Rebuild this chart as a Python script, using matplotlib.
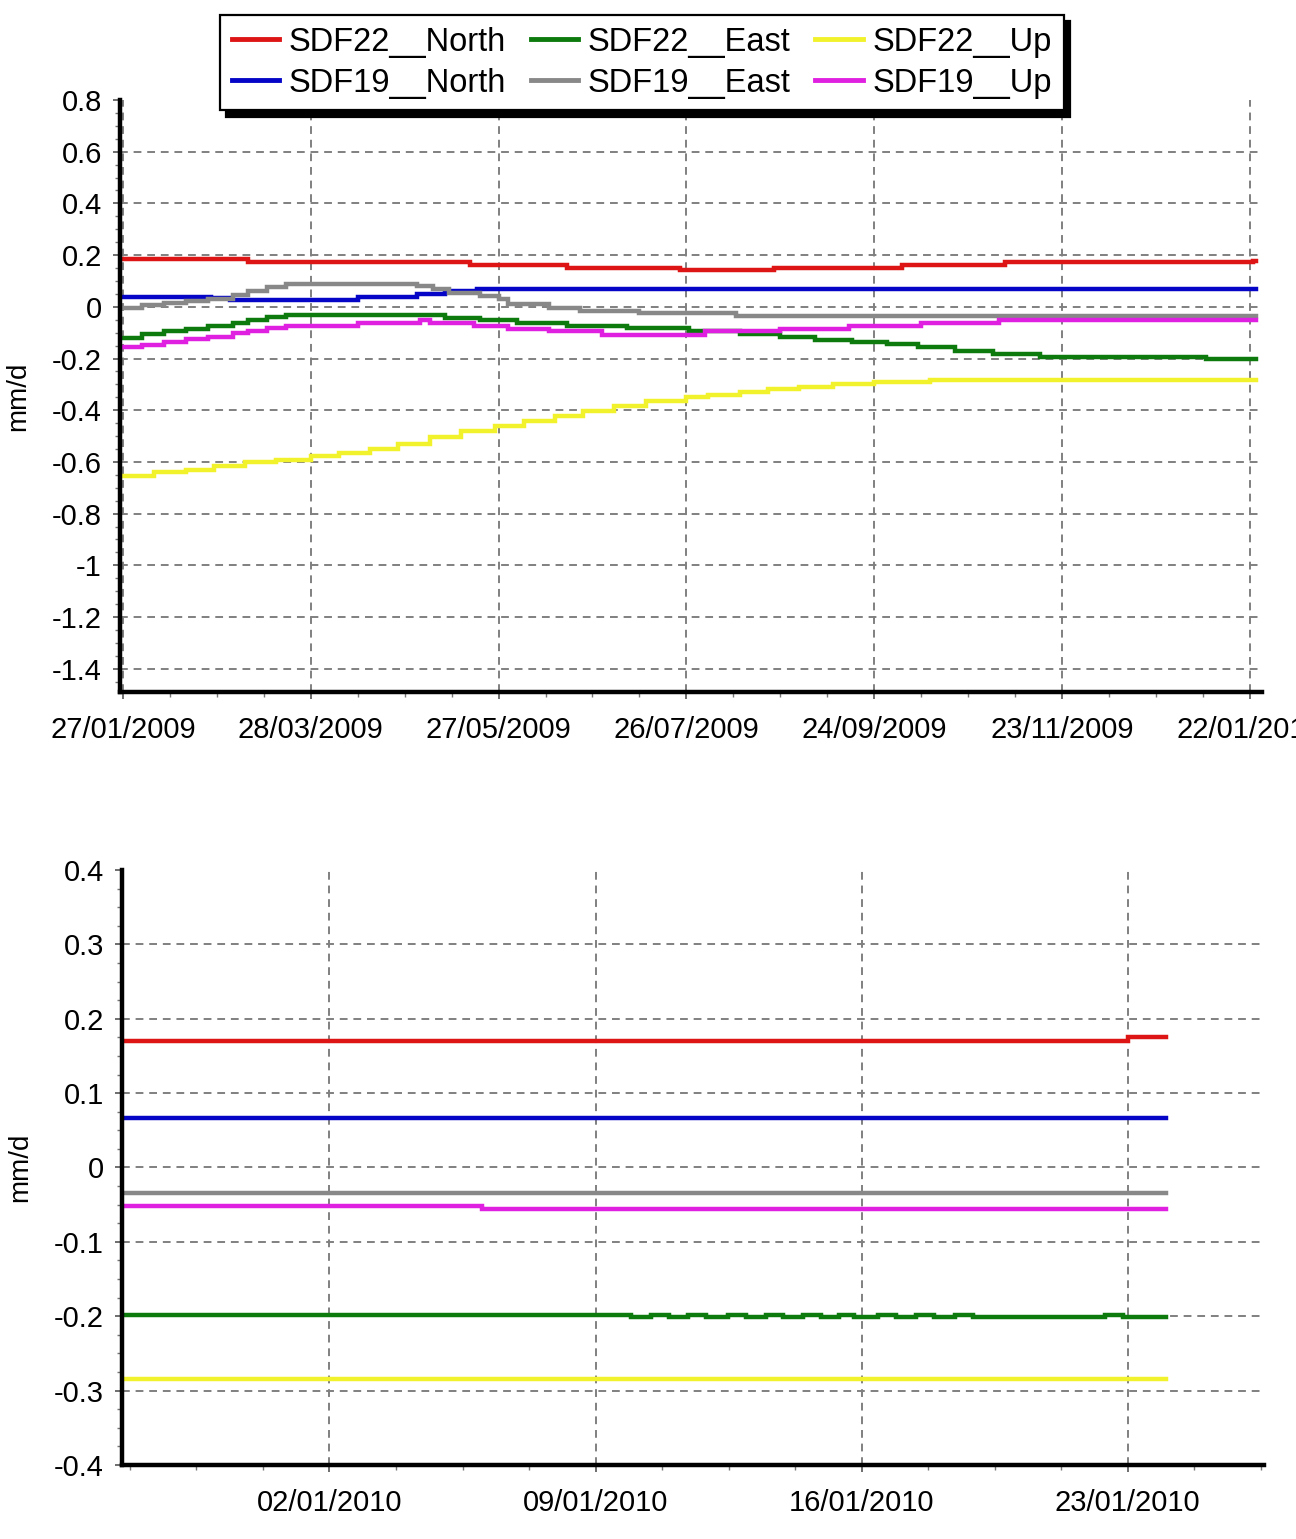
import pandas as pd
import matplotlib
matplotlib.use('Agg')
import matplotlib.pyplot as plt
import matplotlib.dates as mdates
from matplotlib.ticker import AutoMinorLocator, FixedLocator, FuncFormatter

plt.rcParams['font.family'] = ['Liberation Sans', 'DejaVu Sans']
plt.rcParams['axes.unicode_minus'] = False

# ---- top panel: one year of daily velocity (step values) ----
top_end = '24/01/2010'

n22_dates = ['26/01/2009', '08/03/2009', '18/05/2009', '18/06/2009', '24/07/2009',
             '23/08/2009', '03/10/2009', '05/11/2009', '23/01/2010']
n22_vals = [0.186, 0.174, 0.162, 0.151, 0.143, 0.151, 0.162, 0.174, 0.178]

e22_dates = ['26/01/2009', '02/02/2009', '09/02/2009', '16/02/2009', '23/02/2009',
             '03/03/2009', '08/03/2009', '14/03/2009', '20/03/2009', '10/05/2009',
             '21/05/2009', '02/06/2009', '18/06/2009', '07/07/2009', '27/07/2009',
             '12/08/2009', '25/08/2009', '05/09/2009', '17/09/2009', '28/09/2009',
             '08/10/2009', '20/10/2009', '01/11/2009', '16/11/2009', '08/01/2010']
e22_vals = [-0.119, -0.106, -0.095, -0.084, -0.073, -0.063, -0.052, -0.041, -0.031, -0.044,
            -0.052, -0.061, -0.073, -0.082, -0.093, -0.106, -0.118, -0.128, -0.137, -0.145,
            -0.157, -0.170, -0.183, -0.195, -0.201]

u22_dates = ['26/01/2009', '06/02/2009', '16/02/2009', '25/02/2009', '07/03/2009',
             '17/03/2009', '28/03/2009', '06/04/2009', '16/04/2009', '25/04/2009',
             '05/05/2009', '15/05/2009', '26/05/2009', '04/06/2009', '14/06/2009',
             '23/06/2009', '03/07/2009', '13/07/2009', '26/07/2009', '02/08/2009',
             '12/08/2009', '21/08/2009', '31/08/2009', '11/09/2009', '24/09/2009',
             '12/10/2009']
u22_vals = [-0.654, -0.641, -0.632, -0.615, -0.602, -0.592, -0.579, -0.566, -0.551, -0.529,
            -0.505, -0.482, -0.460, -0.441, -0.422, -0.402, -0.383, -0.364, -0.348, -0.340,
            -0.331, -0.318, -0.309, -0.297, -0.290, -0.285]

n19_dates = ['26/01/2009', '24/02/2009', '02/03/2009', '12/04/2009', '01/05/2009',
             '10/05/2009', '20/05/2009']
n19_vals = [0.039, 0.033, 0.027, 0.039, 0.050, 0.061, 0.068]

e19_dates = ['26/01/2009', '02/02/2009', '09/02/2009', '16/02/2009', '23/02/2009',
             '03/03/2009', '08/03/2009', '14/03/2009', '20/03/2009', '01/05/2009',
             '06/05/2009', '11/05/2009', '21/05/2009', '27/05/2009', '30/05/2009',
             '12/06/2009', '22/06/2009', '11/07/2009', '11/08/2009']
e19_vals = [-0.003, 0.008, 0.014, 0.022, 0.030, 0.045, 0.062, 0.075, 0.090, 0.081,
            0.068, 0.055, 0.043, 0.030, 0.010, -0.003, -0.015, -0.024, -0.035]

u19_dates = ['26/01/2009', '02/02/2009', '09/02/2009', '16/02/2009', '23/02/2009',
             '03/03/2009', '08/03/2009', '14/03/2009', '20/03/2009', '12/04/2009',
             '02/05/2009', '05/05/2009', '19/05/2009', '30/05/2009', '12/06/2009',
             '29/06/2009', '01/08/2009', '25/08/2009', '16/09/2009', '09/10/2009',
             '03/11/2009']
u19_vals = [-0.157, -0.147, -0.135, -0.125, -0.115, -0.103, -0.093, -0.082, -0.073, -0.063,
            -0.052, -0.063, -0.073, -0.086, -0.095, -0.110, -0.095, -0.084, -0.073, -0.063,
            -0.052]

top_ticks = ['27/01/2009', '28/03/2009', '27/05/2009', '26/07/2009',
             '24/09/2009', '23/11/2009', '22/01/2010']
top_yticks = [-1.4, -1.2, -1.0, -0.8, -0.6, -0.4, -0.2, 0.0, 0.2, 0.4, 0.6, 0.8]
top_ylim = (-1.49, 0.8)
top_xlim = ('26/01/2009', '26/01/2010')

# ---- bottom panel: last four weeks ----
bot_end = '24/01/2010 00:00'

bn22_dates = ['27/12/2009 13:00', '23/01/2010 00:00']
bn22_vals = [0.170, 0.175]

be22_dates = ['27/12/2009 13:00', '09/01/2010 22:30', '10/01/2010 11:00', '10/01/2010 22:30',
              '11/01/2010 10:30', '11/01/2010 22:00', '12/01/2010 11:30', '12/01/2010 23:00',
              '13/01/2010 11:30', '13/01/2010 22:30', '14/01/2010 11:00', '14/01/2010 22:20',
              '15/01/2010 09:30', '15/01/2010 19:00', '16/01/2010 10:20', '16/01/2010 21:40',
              '17/01/2010 10:20', '17/01/2010 21:40', '18/01/2010 11:00', '18/01/2010 22:20',
              '22/01/2010 09:40', '22/01/2010 21:00']
be22_vals = [-0.198, -0.2015, -0.198, -0.2015, -0.198, -0.2015, -0.198, -0.2015,
             -0.198, -0.2015, -0.198, -0.2015, -0.198, -0.2015, -0.198, -0.2015,
             -0.198, -0.2015, -0.198, -0.2015, -0.198, -0.2015]

bu22_dates = ['27/12/2009 13:00']
bu22_vals = [-0.285]

bn19_dates = ['27/12/2009 13:00']
bn19_vals = [0.066]

be19_dates = ['27/12/2009 13:00']
be19_vals = [-0.034]

bu19_dates = ['27/12/2009 13:00', '06/01/2010 00:00']
bu19_vals = [-0.052, -0.056]

bot_ticks = ['02/01/2010', '09/01/2010', '16/01/2010', '23/01/2010']
bot_yticks = [-0.4, -0.3, -0.2, -0.1, 0.0, 0.1, 0.2, 0.3, 0.4]
bot_ylim = (-0.4, 0.4)
bot_xlim = ('27/12/2009 13:00', '26/01/2010 14:00')

labels = ['SDF22__North', 'SDF22__East', 'SDF22__Up', 'SDF19__North', 'SDF19__East', 'SDF19__Up']
colors = ['#dd1515', '#0c7a0c', '#f2f22c', '#0505c8', '#888888', '#e020e0']


def dparse(vals, fmt='%d/%m/%Y'):
    return list(pd.to_datetime(vals, format=fmt))


def draw_step(ax, dates, vals, end, fmt, color, label):
    x = dparse(dates, fmt) + dparse([end], fmt)
    y = list(vals) + [vals[-1]]
    return ax.step(x, y, where='post', color=color, lw=3.2, label=label,
                   solid_joinstyle='miter')[0]


def style_axes(ax, yticks, ylim):
    for s in ['top', 'right']:
        ax.spines[s].set_visible(False)
    for s in ['left', 'bottom']:
        ax.spines[s].set_linewidth(3.2)
        ax.spines[s].set_color('black')
    ax.yaxis.set_major_locator(FixedLocator(yticks))
    ax.yaxis.set_major_formatter(FuncFormatter(lambda v, p: f'{v:g}'))
    ax.set_ylim(*ylim)
    ax.yaxis.set_minor_locator(AutoMinorLocator(4))
    ax.xaxis.set_minor_locator(AutoMinorLocator(4))
    ax.tick_params(which='major', direction='out', length=5, width=1.2, color='#555555',
                   labelsize=21, pad=8)
    ax.tick_params(which='minor', direction='out', length=3.5, width=1.0, color='#777777')
    ax.tick_params(axis='x', which='major', pad=12)
    ax.grid(True, which='major', color='#808080', linestyle=(0, (4, 3)), linewidth=1.4)
    ax.set_ylabel('mm/d', fontsize=20)
    ax.yaxis.set_label_coords(-0.078, 0.5)
    ax.yaxis.get_major_ticks()[-1].gridline.set_visible(False)


fig = plt.figure(figsize=(12.96, 15.39), dpi=100)
ax1 = fig.add_axes([0.0926, 0.5504, 0.8812, 0.3846])
ax2 = fig.add_axes([0.0941, 0.0481, 0.8812, 0.3866])

f1 = '%d/%m/%Y'
top_series = [(n22_dates, n22_vals), (e22_dates, e22_vals), (u22_dates, u22_vals),
              (n19_dates, n19_vals), (e19_dates, e19_vals), (u19_dates, u19_vals)]
handles = []
for (dts, vls), c, lab in zip(top_series, colors, labels):
    handles.append(draw_step(ax1, dts, vls, top_end, f1, c, lab))

f2 = '%d/%m/%Y %H:%M'
bot_series = [(bn22_dates, bn22_vals), (be22_dates, be22_vals), (bu22_dates, bu22_vals),
              (bn19_dates, bn19_vals), (be19_dates, be19_vals), (bu19_dates, bu19_vals)]
for (dts, vls), c, lab in zip(bot_series, colors, labels):
    draw_step(ax2, dts, vls, bot_end, f2, c, lab)

ax1.set_xlim(*dparse(list(top_xlim)))
ax1.xaxis.set_major_locator(FixedLocator(mdates.date2num(dparse(top_ticks))))
ax1.xaxis.set_major_formatter(mdates.DateFormatter('%d/%m/%Y'))
style_axes(ax1, top_yticks, top_ylim)

ax2.set_xlim(*dparse(list(bot_xlim), f2))
ax2.xaxis.set_major_locator(FixedLocator(mdates.date2num(dparse(bot_ticks))))
ax2.xaxis.set_major_formatter(mdates.DateFormatter('%d/%m/%Y'))
style_axes(ax2, bot_yticks, bot_ylim)

# legend: row-wise order in a 3-column layout
order = [0, 3, 1, 4, 2, 5]
leg = fig.legend([handles[i] for i in order], [labels[i] for i in order],
                 ncol=3, loc='upper left', bbox_to_anchor=(220 / 1296, 1 - 15 / 1539),
                 fontsize=23.5, frameon=True, fancybox=False, framealpha=1,
                 edgecolor='black', borderpad=0.36, labelspacing=0.3,
                 handlelength=1.45, handletextpad=0.3, columnspacing=0.75,
                 borderaxespad=0,
                 shadow={'ox': 4.5, 'oy': -4.5, 'color': 'black', 'alpha': 1})
leg.get_frame().set_linewidth(1.6)
for ln in leg.get_lines():
    ln.set_linewidth(3.5)

fig.savefig('out.png', dpi=100)
